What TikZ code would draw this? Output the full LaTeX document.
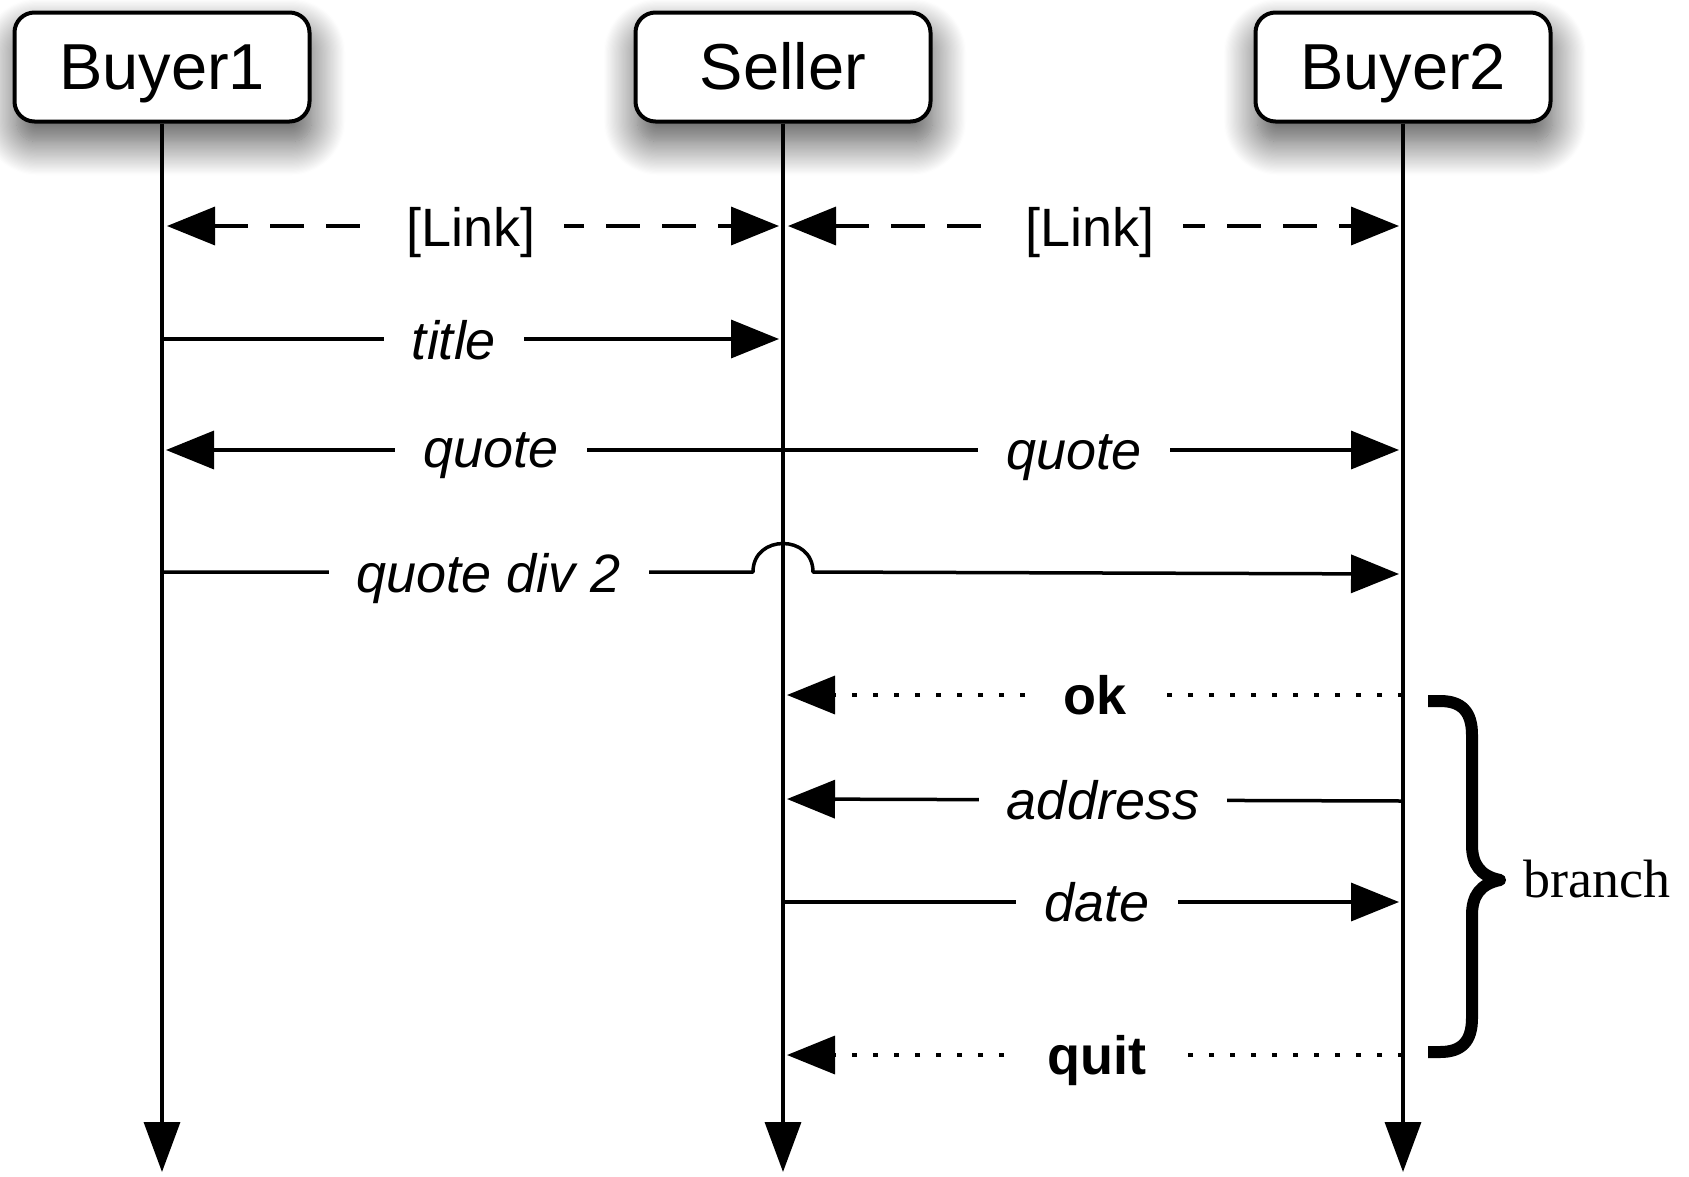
\documentclass[tikz,border=0pt]{standalone}
\usepackage{fontspec}
\setmainfont{Liberation Sans}
\newfontfamily\brfont{Liberation Serif}
\usetikzlibrary{arrows.meta,shadows.blur,calc}
\begin{document}
\begin{tikzpicture}[x=1pt,y=-1pt,
  actor/.style={draw=black,line width=4pt,rounded corners=20pt,fill=white,
    minimum width=295pt,minimum height=109pt,inner sep=0pt,
    text height=47pt,text depth=3pt,
    font=\fontsize{65}{70}\selectfont,
    blur shadow={shadow xshift=2pt,shadow yshift=-20pt,shadow blur radius=34pt,shadow blur steps=30,shadow opacity=70}},
  life/.style={line width=3.5pt,-{Triangle[length=50pt,width=36pt]}},
  msg/.style={line width=3.5pt,-{Triangle[length=48pt,width=38pt]}},
  linkmsg/.style={line width=3.5pt,{Triangle[length=48pt,width=38pt]}-{Triangle[length=48pt,width=38pt]},dash pattern=on 34pt off 22pt},
  dotmsg/.style={msg,dash pattern=on 5pt off 16pt},
  lbl/.style={fill=white,inner xsep=28pt,inner ysep=6pt,anchor=base,font=\fontsize{54}{60}\selectfont\itshape},
  lblup/.style={lbl,font=\fontsize{54}{60}\selectfont},
  lblbf/.style={lbl,font=\fontsize{54}{60}\selectfont\bfseries},
  bracestyle/.style={line width=12pt,line cap=butt,line join=round}
]
\useasboundingbox (0,0) rectangle (1689,1176);

% actors
\node[actor] (B1) at (162,67) {Buyer1};
\node[actor] (S) at (783,67) {Seller};
\node[actor] (B2) at (1403,67) {Buyer2};

% lifeline ends
\coordinate (B1end) at (162,1172);
\coordinate (Send) at (783,1172);
\coordinate (B2end) at (1403,1172);
\draw[life] (B1.south) -- (B1end);
\draw[life] (S.south) -- (Send);
\draw[life] (B2.south) -- (B2end);

% message end points
\coordinate (l1a) at (167,226); \coordinate (l1b) at (779,226);
\coordinate (l2a) at (788,226); \coordinate (l2b) at (1399,226);
\coordinate (t1) at (162,339);  \coordinate (t2) at (779,339);
\coordinate (q0) at (783,450);  \coordinate (q1) at (166,450); \coordinate (q2) at (1399,450);
\coordinate (d1) at (162,572);  \coordinate (ds) at (783,572); \coordinate (d2) at (1399,574);
\coordinate (o2) at (1403,695); \coordinate (o1) at (787,695);
\coordinate (a2) at (1403,801); \coordinate (a1) at (787,799);
\coordinate (dt1) at (783,902); \coordinate (dt2) at (1399,902);
\coordinate (u2) at (1403,1055); \coordinate (u1) at (787,1055);

% messages
\draw[linkmsg] (l1a) -- (l1b);
\node[lblup] (Lk1) at (471,246) {[Link]};
\draw[linkmsg] (l2a) -- (l2b);
\node[lblup] (Lk2) at (1090,246) {[Link]};

\draw[msg] (t1) -- (t2);
\node[lbl] (Tt) at (454,359) {title};

\draw[msg] (q0) -- (q1);
\draw[msg] (q0) -- (q2);
\node[lbl] (Q1) at (491,467) {quote};
\node[lbl] (Q2) at (1074,469) {quote};

\draw[msg,line join=round] (d1) -- ($(ds)+(-30,0)$) .. controls +(0,-38) and +(0,-38) .. ($(ds)+(30,0)$) -- (d2);
\node[lbl] (Qd) at (489,592) {quote div 2};

\draw[dotmsg] (o2) -- (o1);
\node[lblbf] (Ok) at (1095,714) {ok};

\draw[msg] (a2) -- (a1);
\node[lbl] (Ad) at (1103,819) {address};

\draw[msg] (dt1) -- (dt2);
\node[lbl] (Dt) at (1097,921) {date};

\draw[dotmsg] (u2) -- (u1);
\node[lblbf] (Qu) at (1097,1074) {quit};

% branch brace
\coordinate (br1) at (1428,701);
\coordinate (brtip) at (1500,880);
\coordinate (br2) at (1428,1052);
\draw[bracestyle] (br1) -- (1440,701) .. controls (1462,701) and (1472,712) .. (1472,735)
  -- (1472,845) .. controls (1472,864) and (1480,876) .. (brtip)
  .. controls (1480,884) and (1472,896) .. (1472,915)
  -- (1472,1018) .. controls (1472,1041) and (1462,1052) .. (1440,1052) -- (br2);
\node[anchor=base west,inner sep=0pt,font=\brfont\fontsize{54}{60}\selectfont] (Br) at (1523,897) {branch};
\end{tikzpicture}
\end{document}
